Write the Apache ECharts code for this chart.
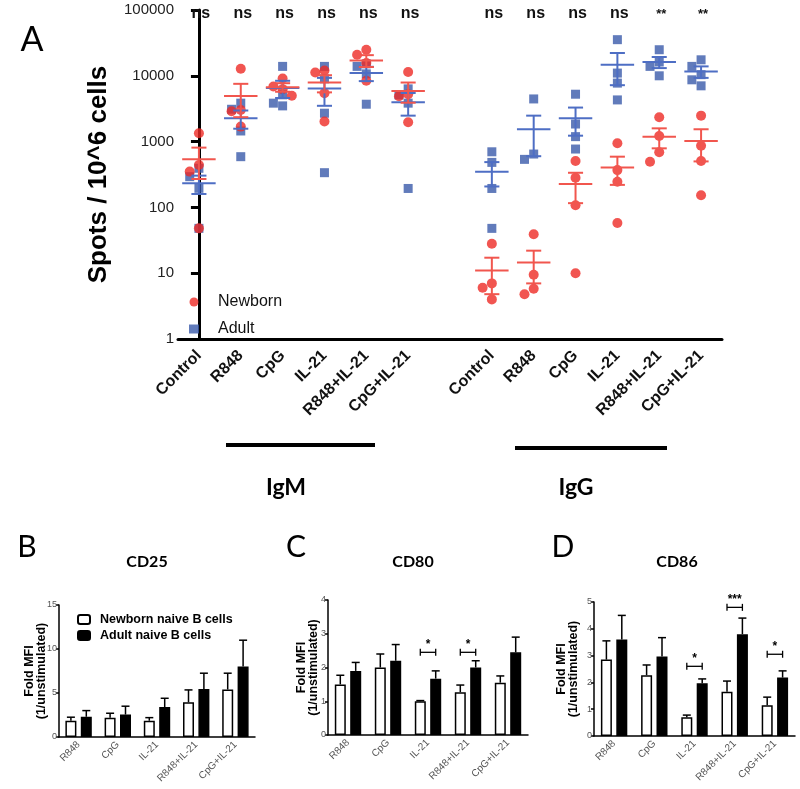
<!DOCTYPE html>
<html><head><meta charset="utf-8">
<script src="https://cdn.jsdelivr.net/npm/echarts@6/dist/echarts.min.js"></script>
<style>html,body{margin:0;padding:0;background:#fff}#c{width:800px;height:789px}</style>
</head><body><div id="c"></div>
<script>
// ---------- Panel A data ----------
const catsA = ['Control','R848','CpG','IL-21','R848+IL-21','CpG+IL-21','','Control','R848','CpG','IL-21','R848+IL-21','CpG+IL-21'];
const sigA = ['ns','ns','ns','ns','ns','ns','','ns','ns','ns','ns','**','**'];
const newbornPts = [
  [1340, 440, 350, 48],
  [12800, 3030, 2900, 1690],
  [9100, 6880, 6270, 4960],
  [11240, 12030, 5450, 2020],
  [24900, 20900, 15600, 8400],
  [11400, 5260, 4900, 1970],
  [],
  [28, 7, 6, 4],
  [39, 9.5, 5.8, 4.8],
  [506, 282, 108, 10],
  [942, 369, 245, 58],
  [2340, 1216, 687, 494],
  [2480, 866, 506, 153]
];
const adultPts = [
  [393, 293, 195, 48],
  [3100, 3840, 1450, 590],
  [13900, 5140, 3840, 3490],
  [13900, 9000, 2700, 337],
  [15200, 10700, 3700, 13900],
  [6330, 5130, 3840, 194],
  [],
  [700, 483, 194, 48],
  [4450, 647, 537],
  [5250, 1850, 1190, 771],
  [35400, 11000, 7740, 4300],
  [24900, 16200, 13900, 10000],
  [17500, 13900, 10400, 8690, 7040]
];
const newbornMean = [540, 4950, 6720, 7900, 17100, 5900, null, 11, 14.5, 226, 405, 1190, 1020];
const newbornSem  = [270, 2600, 1000, 2300, 3500, 2000, null, 6.2, 7.5, 110, 185, 400, 520];
const adultMean   = [232, 2270, 6500, 6400, 11000, 3980, null, 348, 1540, 2260, 14700, 16200, 11600];
const adultSem    = [72, 700, 1900, 2900, 2700, 1500, null, 140, 940, 1030, 7500, 3100, 2300];
const yTicksA = [1, 10, 100, 1000, 10000, 100000];

// ---------- Panels B-D data ----------
const catsBar = ['R848','CpG','IL-21','R848+IL-21','CpG+IL-21'];
const cd25Newborn = [1.85, 2.2, 1.85, 3.95, 5.4];
const cd25NewbornErr = [0.4, 0.5, 0.35, 1.4, 1.85];
const cd25Adult = [2.3, 2.55, 3.4, 5.45, 8.0];
const cd25AdultErr = [0.7, 0.95, 1.0, 1.8, 3.0];
const cd80Newborn = [1.5, 2.0, 1.0, 1.27, 1.55];
const cd80NewbornErr = [0.27, 0.4, 0.02, 0.21, 0.2];
const cd80Adult = [1.9, 2.2, 1.67, 2.0, 2.45];
const cd80AdultErr = [0.25, 0.48, 0.23, 0.2, 0.45];
const cd86Newborn = [2.85, 2.27, 0.7, 1.65, 1.15];
const cd86NewbornErr = [0.7, 0.38, 0.08, 0.4, 0.3];
const cd86Adult = [3.6, 2.97, 1.97, 3.8, 2.18];
const cd86AdultErr = [0.9, 0.7, 0.16, 0.6, 0.25];
const cd80Sig = [null, null, '*', '*', null];
const cd80SigLevel = [null, null, 2.45, 2.45, null];
const cd86Sig = [null, null, '*', '***', '*'];
const cd86SigLevel = [null, null, 2.6, 4.8, 3.05];

// ---------- helpers ----------
const RED = '#EE2A26', BLUE = '#3A5AAA', RED_L = '#F1564E', BLUE_L = '#4E6EC4';
const SANS = '"Liberation Sans", Arial, sans-serif';
const CAL = 'Lato, "Open Sans", sans-serif';

function swarm(groups) {
  const out = [];
  groups.forEach((vals, ci) => {
    const placed = [];
    vals.map(v => v).sort((a, b) => b - a).forEach(v => {
      const lv = Math.log10(v);
      const cands = [0, -0.22, 0.22, -0.44, 0.44];
      let off = 0;
      for (const c of cands) {
        if (!placed.some(q => Math.abs(q.lv - lv) < 0.15 && Math.abs(q.off - c) < 0.2)) { off = c; break; }
      }
      placed.push({lv, off});
      out.push([ci + off, v]);
    });
  });
  return out;
}
function meanSeries(means, sems, color) {
  const data = [];
  means.forEach((m, i) => { if (m != null) data.push([i, m, sems[i]]); });
  return {
    type: 'custom', xAxisIndex: 1, yAxisIndex: 0, z: 5, silent: true,
    encode: {x: 0, y: 1},
    data,
    renderItem(params, api) {
      const x = api.value(0), m = api.value(1), s = api.value(2);
      const c = api.coord([x, m]);
      const w = api.coord([x + 1, m])[0] - c[0];
      const t = api.coord([x, m + s]);
      const b = api.coord([x, Math.max(m - s, 1.01)]);
      const st = {stroke: color, lineWidth: 2};
      return {type: 'group', children: [
        {type: 'line', shape: {x1: c[0] - 0.4 * w, y1: c[1], x2: c[0] + 0.4 * w, y2: c[1]}, style: st},
        {type: 'line', shape: {x1: c[0], y1: t[1], x2: c[0], y2: b[1]}, style: st},
        {type: 'line', shape: {x1: c[0] - 0.18 * w, y1: t[1], x2: c[0] + 0.18 * w, y2: t[1]}, style: st},
        {type: 'line', shape: {x1: c[0] - 0.18 * w, y1: b[1], x2: c[0] + 0.18 * w, y2: b[1]}, style: st}
      ]};
    }
  };
}
function errSeries(vals, errs, gi, side) {
  return {
    type: 'custom', xAxisIndex: gi + 1, yAxisIndex: gi, z: 4, silent: true,
    encode: {x: 0, y: 1},
    data: vals.map((v, i) => [i, v, errs[i]]),
    renderItem(params, api) {
      const i = api.value(0), v = api.value(1), e = api.value(2);
      const p = api.coord([i, v]);
      const t = api.coord([i, v + e]);
      const x = p[0] + side * 7.7;
      const st = {stroke: '#000', lineWidth: 1.5};
      return {type: 'group', children: [
        {type: 'line', shape: {x1: x, y1: p[1], x2: x, y2: t[1]}, style: st},
        {type: 'line', shape: {x1: x - 4, y1: t[1], x2: x + 4, y2: t[1]}, style: st}
      ]};
    }
  };
}
function sigSeries(levels, texts, gi) {
  const data = [];
  levels.forEach((l, i) => { if (l != null) data.push([i, l]); });
  return {
    type: 'custom', xAxisIndex: gi + 1, yAxisIndex: gi, z: 4, silent: true,
    encode: {x: 0, y: 1},
    data,
    renderItem(params, api) {
      const i = api.value(0), l = api.value(1);
      const txt = texts[i];
      const p = api.coord([i, l]);
      const x1 = p[0] - 7.7, x2 = p[0] + 7.7;
      const st = {stroke: '#000', lineWidth: 1.3};
      return {type: 'group', children: [
        {type: 'line', shape: {x1, y1: p[1], x2, y2: p[1]}, style: st},
        {type: 'line', shape: {x1, y1: p[1] - 3.5, x2: x1, y2: p[1] + 3.5}, style: st},
        {type: 'line', shape: {x1: x2, y1: p[1] - 3.5, x2: x2, y2: p[1] + 3.5}, style: st},
        {type: 'text', x: p[0], y: p[1] - 2, style: {text: txt, textAlign: 'center', textVerticalAlign: 'bottom', font: 'bold 12px ' + SANS, fill: '#000'}}
      ]};
    }
  };
}
function barAxisX(gi) {
  return {
    type: 'category', gridIndex: gi, data: catsBar,
    axisLine: {lineStyle: {color: '#000', width: 1.5}},
    axisTick: {alignWithLabel: true, length: 4, lineStyle: {color: '#000', width: 1.5}},
    axisLabel: {rotate: 45, interval: 0, fontSize: 10, color: '#555', fontFamily: SANS, margin: 6}
  };
}
function barAxisY(gi, max, gap) {
  return {
    type: 'value', gridIndex: gi, min: 0, max, interval: max === 15 ? 5 : 1,
    name: 'Fold MFI\n(1/unstimulated)', nameLocation: 'middle', nameRotate: 90, nameGap: gap, nameMoveOverlap: false,
    nameTextStyle: {fontWeight: 'bold', fontSize: 12.5, fontFamily: SANS, color: '#000', lineHeight: 12},
    splitLine: {show: false},
    axisLine: {show: true, lineStyle: {color: '#000', width: 1.5}},
    axisTick: {show: true, length: 3, lineStyle: {color: '#000', width: 1.5}},
    axisLabel: {fontSize: 9, color: '#555', fontFamily: SANS, margin: 2}
  };
}
function barPair(nb, ad, gi) {
  return [
    {name: 'Newborn naive B cells', type: 'bar', xAxisIndex: gi + 1, yAxisIndex: gi, data: nb, barWidth: 11, barGap: '40%',
     itemStyle: {color: '#fff', borderColor: '#000', borderWidth: 1.5}},
    {name: 'Adult naive B cells', type: 'bar', xAxisIndex: gi + 1, yAxisIndex: gi, data: ad, barWidth: 11, barGap: '40%',
     itemStyle: {color: '#000', borderColor: '#000', borderWidth: 1.5}}
  ];
}

const chart = echarts.init(document.getElementById('c'), null, {renderer: 'canvas'});
const option = {
  animation: false,
  backgroundColor: '#fff',
  grid: [
    {left: 178, top: 10, width: 544, height: 329},
    {left: 59, top: 605, width: 196, height: 132},
    {left: 328, top: 600, width: 200, height: 135},
    {left: 594, top: 602, width: 201, height: 134}
  ],
  xAxis: [
    {type: 'category', gridIndex: 0, data: catsA,
     axisLine: {lineStyle: {color: '#000', width: 3}},
     axisTick: {alignWithLabel: true, length: 8, lineStyle: {color: '#000', width: 3}},
     axisLabel: {rotate: 45, interval: 0, fontSize: 16, fontWeight: 'bold', color: '#111', fontFamily: SANS, margin: 14}},
    {type: 'value', gridIndex: 0, min: -0.5, max: 12.5, show: false},
    barAxisX(1), barAxisX(2), barAxisX(3)
  ],
  yAxis: [
    {type: 'log', gridIndex: 0, logBase: 10, min: yTicksA[0], max: yTicksA[yTicksA.length - 1],
     name: 'Spots / 10^6 cells', nameLocation: 'middle', nameRotate: 90, nameGap: 66,
     nameTextStyle: {fontWeight: 'bold', fontSize: 26, fontFamily: SANS, color: '#000'},
     splitLine: {show: false}, minorTick: {show: false},
     axisLine: {show: true, lineStyle: {color: '#000', width: 3}},
     axisTick: {show: true, length: 8, lineStyle: {color: '#000', width: 3}},
     axisLabel: {fontSize: 15, color: '#222', fontFamily: SANS, margin: 4, formatter: v => String(Math.round(v))}},
    barAxisY(1, 15, 11), barAxisY(2, 4, 8), barAxisY(3, 5, 14)
  ],
  legend: [
    {data: ['Newborn', 'Adult'], orient: 'vertical', left: 184, top: 289, itemGap: 11, itemWidth: 10, itemHeight: 9,
     textStyle: {fontSize: 16, fontFamily: SANS, color: '#111', padding: [0, 0, 0, 14]}},
    {data: ['Newborn naive B cells', 'Adult naive B cells'], orient: 'vertical', left: 72, top: 608, itemGap: 3,
     itemWidth: 12, itemHeight: 9, textStyle: {fontSize: 12.5, fontWeight: 'bold', fontFamily: SANS, color: '#000', padding: [0, 0, 0, 5]}}
  ],
  series: [
    {name: 'Adult', type: 'scatter', xAxisIndex: 1, yAxisIndex: 0, symbol: 'rect', symbolSize: 9, z: 2,
     itemStyle: {color: BLUE}, data: swarm(adultPts)},
    {name: 'Newborn', type: 'scatter', xAxisIndex: 1, yAxisIndex: 0, symbol: 'circle', symbolSize: 10, z: 3,
     itemStyle: {color: RED}, data: swarm(newbornPts)},
    meanSeries(adultMean, adultSem, BLUE_L),
    meanSeries(newbornMean, newbornSem, RED_L),
    {type: 'custom', xAxisIndex: 1, yAxisIndex: 0, silent: true, encode: {x: 0, y: 1},
     data: sigA.map((s, i) => [i, yTicksA[yTicksA.length - 1]]),
     renderItem(params, api) {
       const i = api.value(0);
       const p = api.coord([i, api.value(1)]);
       return {type: 'text', x: p[0] + 2, y: p[1] + 4, style: {text: sigA[i], textAlign: 'center', textVerticalAlign: 'middle',
         font: 'bold ' + (sigA[i] === 'ns' ? 16 : 13) + 'px ' + SANS, fill: '#111'}};
     }},
    ...barPair(cd25Newborn, cd25Adult, 1),
    errSeries(cd25Newborn, cd25NewbornErr, 1, -1),
    errSeries(cd25Adult, cd25AdultErr, 1, 1),
    ...barPair(cd80Newborn, cd80Adult, 2),
    errSeries(cd80Newborn, cd80NewbornErr, 2, -1),
    errSeries(cd80Adult, cd80AdultErr, 2, 1),
    sigSeries(cd80SigLevel, cd80Sig, 2),
    ...barPair(cd86Newborn, cd86Adult, 3),
    errSeries(cd86Newborn, cd86NewbornErr, 3, -1),
    errSeries(cd86Adult, cd86AdultErr, 3, 1),
    sigSeries(cd86SigLevel, cd86Sig, 3)
  ],
  graphic: [
    {type: 'text', x: 32, y: 40, style: {text: 'A', font: '34px ' + CAL, fill: '#000', textAlign: 'center', textVerticalAlign: 'middle'}},
    {type: 'rect', shape: {x: 226, y: 443, width: 149, height: 4}, style: {fill: '#000'}},
    {type: 'rect', shape: {x: 515, y: 446, width: 152, height: 4}, style: {fill: '#000'}},
    {type: 'text', x: 286, y: 488, style: {text: 'IgM', font: 'bold 23px ' + CAL, fill: '#000', textAlign: 'center', textVerticalAlign: 'middle'}},
    {type: 'text', x: 576, y: 488, style: {text: 'IgG', font: 'bold 23px ' + CAL, fill: '#000', textAlign: 'center', textVerticalAlign: 'middle'}},
    {type: 'text', x: 27, y: 547, style: {text: 'B', font: '30px ' + CAL, fill: '#000', textAlign: 'center', textVerticalAlign: 'middle'}},
    {type: 'text', x: 296, y: 547, style: {text: 'C', font: '30px ' + CAL, fill: '#000', textAlign: 'center', textVerticalAlign: 'middle'}},
    {type: 'text', x: 563, y: 547, style: {text: 'D', font: '30px ' + CAL, fill: '#000', textAlign: 'center', textVerticalAlign: 'middle'}},
    {type: 'text', x: 147, y: 562, style: {text: 'CD25', font: 'bold 16px ' + CAL, fill: '#000', textAlign: 'center', textVerticalAlign: 'middle'}},
    {type: 'text', x: 413, y: 562, style: {text: 'CD80', font: 'bold 16px ' + CAL, fill: '#000', textAlign: 'center', textVerticalAlign: 'middle'}},
    {type: 'text', x: 677, y: 562, style: {text: 'CD86', font: 'bold 16px ' + CAL, fill: '#000', textAlign: 'center', textVerticalAlign: 'middle'}}
  ]
};
chart.setOption(option);
</script></body></html>
